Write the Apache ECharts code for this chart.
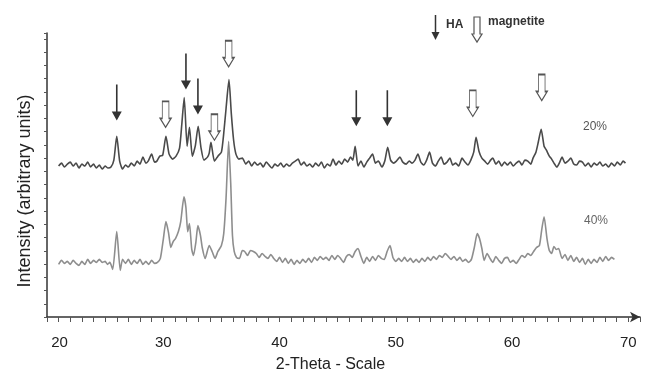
<!DOCTYPE html>
<html>
<head>
<meta charset="utf-8">
<script src="https://cdn.jsdelivr.net/npm/echarts@6/dist/echarts.min.js"></script>
<style>
  html, body { margin: 0; padding: 0; background: #fff; }
  #chart { width: 647px; height: 378px; }
</style>
</head>
<body>
<div id="chart"></div>
<script>
// 2-theta positions and intensities (arbitrary units)
const theta20 = [21.0, 21.25, 21.5, 21.75, 22.0, 22.25, 22.5, 22.75, 23.0, 23.25, 23.5, 23.75, 24.0, 24.25, 24.5, 24.75,
  25.0, 25.25, 25.5, 25.75, 26.0, 26.25, 26.5, 26.75, 27.0, 27.25, 27.5, 27.75, 28.0, 28.25, 28.5, 28.7, 29.0, 29.25, 29.45, 29.7, 29.95,
  30.23, 30.5, 30.8, 31.1, 31.4, 31.6, 31.8, 32.05, 32.25, 32.5, 32.75, 33.0, 33.25, 33.5, 33.8, 33.95, 34.1, 34.4, 34.7, 35.0, 35.2, 35.4, 35.65, 35.85, 36.05, 36.25, 36.5, 36.8,
  37.1, 37.35, 37.6, 37.85, 38.1, 38.35, 38.6, 38.85, 39.1, 39.35, 39.6, 39.85, 40.1, 40.35, 40.6, 40.85, 41.1, 41.35, 41.6, 41.85,
  42.1, 42.35, 42.6, 42.85, 43.1, 43.35, 43.6, 43.85, 44.1, 44.35, 44.6, 44.85, 45.1, 45.35, 45.6, 45.85, 46.1, 46.3, 46.5, 46.75,
  47.0, 47.25, 47.5, 47.75, 48.0, 48.25, 48.5, 48.8, 49.05, 49.3, 49.55, 49.8, 50.05, 50.35, 50.6, 50.9, 51.15, 51.4, 51.65, 51.9,
  52.15, 52.4, 52.65, 52.9, 53.15, 53.4, 53.65, 53.9, 54.15, 54.4, 54.65, 54.9, 55.15, 55.4, 55.7, 55.95, 56.2, 56.45, 56.7, 56.9,
  57.15, 57.4, 57.65, 57.9, 58.15, 58.35, 58.6, 58.85, 59.1, 59.35, 59.6, 59.85, 60.1, 60.35, 60.6, 60.85, 61.1, 61.35, 61.6, 61.8,
  62.05, 62.25, 62.5, 62.75, 62.95, 63.2, 63.4, 63.6, 63.85, 64.1, 64.3, 64.55, 64.8, 65.05, 65.3, 65.55, 65.8, 66.05, 66.3, 66.55,
  66.8, 67.05, 67.3, 67.55, 67.8, 68.05, 68.3, 68.55, 68.8, 69.05, 69.3, 69.55, 69.75];
const int20 = [152, 155, 151, 154, 156, 152, 155, 150, 154, 152, 156, 151, 154, 150, 153, 149,
  152, 150, 151, 158, 182, 157, 149, 153, 151, 155, 152, 157, 154, 161, 155, 157, 164, 156, 157, 162, 163,
  182, 164, 159, 162, 170, 195, 221, 172, 191, 162, 172, 192, 170, 158, 161, 165, 176, 157, 162, 166, 185, 210, 239, 205, 178, 164, 159, 160,
  154, 157, 152, 156, 153, 155, 151, 156, 153, 150, 154, 152, 155, 151, 154, 152, 155, 157, 159, 153,
  156, 152, 154, 151, 155, 152, 156, 150, 154, 152, 159, 153, 157, 154, 159, 156, 161, 158, 172, 152,
  157, 151, 156, 160, 164, 155, 157, 151, 157, 171, 158, 155, 157, 161, 156, 154, 157, 155, 158, 164,
  156, 153, 158, 166, 155, 152, 157, 161, 154, 156, 160, 153, 155, 152, 160, 156, 153, 158, 166, 181,
  167, 160, 157, 154, 158, 160, 154, 157, 152, 156, 153, 156, 152, 155, 157, 153, 158, 157, 154, 160,
  166, 176, 189, 172, 168, 162, 159, 155, 151, 156, 161, 155, 157, 160, 154, 153, 157, 156, 152, 155,
  151, 155, 153, 156, 152, 154, 151, 155, 152, 156, 153, 157, 155];

const theta40 = [21.0, 21.25, 21.5, 21.75, 22.0, 22.25, 22.5, 22.75, 23.0, 23.25, 23.5, 23.75, 24.0, 24.25, 24.5, 24.75,
  25.0, 25.2, 25.4, 25.65, 26.0, 26.3, 26.5, 26.75, 27.0, 27.25, 27.5, 27.75, 28.0, 28.25, 28.5, 28.75, 29.0, 29.25, 29.5, 29.75,
  30.0, 30.23, 30.45, 30.65, 30.85, 31.05, 31.3, 31.5, 31.78, 31.95, 32.1, 32.25, 32.45, 32.6, 32.8, 32.98, 33.2, 33.35, 33.6, 33.95,
  34.2, 34.45, 34.7, 35.0, 35.2, 35.4, 35.62, 35.8, 35.95, 36.1, 36.3, 36.55, 36.8, 37.0, 37.25, 37.5, 37.75, 38.0, 38.25, 38.5,
  38.75, 39.0, 39.25, 39.5, 39.75, 40.0, 40.25, 40.5, 40.75, 41.0, 41.25, 41.5, 41.75, 42.0, 42.25, 42.5, 42.75, 43.0, 43.25, 43.5,
  43.75, 44.0, 44.25, 44.5, 44.75, 45.0, 45.25, 45.5, 45.75, 46.0, 46.25, 46.5, 46.75, 47.0, 47.25, 47.5, 47.75, 48.0, 48.25, 48.5,
  48.75, 49.0, 49.25, 49.5, 49.75, 50.0, 50.25, 50.5, 50.75, 51.0, 51.25, 51.5, 51.75, 52.0, 52.25, 52.5, 52.75, 53.0, 53.25, 53.5,
  53.75, 54.0, 54.25, 54.5, 54.75, 55.0, 55.25, 55.5, 55.75, 56.0, 56.25, 56.5, 56.75, 57.0, 57.2, 57.4, 57.6, 57.85, 58.1, 58.35,
  58.6, 58.85, 59.1, 59.35, 59.6, 59.85, 60.1, 60.35, 60.6, 60.85, 61.1, 61.35, 61.6, 61.85, 62.1, 62.35, 62.55, 62.75, 63.0, 63.2,
  63.4, 63.6, 63.8, 64.0, 64.3, 64.55, 64.8, 65.05, 65.3, 65.55, 65.8, 66.05, 66.3, 66.55, 66.8, 67.05, 67.3, 67.55, 67.8, 68.05,
  68.3, 68.55, 68.8];
const int40 = [53, 57, 54, 56, 53, 57, 54, 52, 56, 53, 58, 54, 57, 55, 58, 55,
  56, 53, 55, 48, 86, 47, 58, 54, 58, 53, 57, 54, 58, 53, 56, 53, 57, 54, 55, 59,
  78, 96, 85, 70, 76, 79, 86, 96, 121, 110, 86, 94, 68, 62, 75, 92, 82, 70, 59, 72,
  66, 59, 66, 72, 84, 120, 177, 135, 82, 66, 60, 59, 67, 66, 62, 67, 66, 64, 60, 64,
  61, 59, 63, 59, 56, 60, 55, 59, 54, 58, 53, 57, 54, 58, 55, 59, 55, 60, 57, 61,
  58, 60, 57, 62, 58, 62, 59, 55, 61, 63, 60, 66, 69, 61, 54, 60, 56, 61, 57, 62,
  59, 58, 66, 72, 60, 56, 59, 56, 60, 56, 59, 55, 58, 55, 59, 56, 60, 57, 61, 58,
  62, 60, 64, 61, 58, 61, 57, 60, 56, 58, 55, 58, 70, 84, 79, 69, 57, 64, 59, 55,
  61, 57, 54, 59, 60, 55, 57, 54, 58, 62, 60, 64, 62, 66, 70, 72, 88, 101, 79, 67,
  64, 71, 68, 69, 59, 63, 57, 62, 56, 60, 55, 59, 53, 58, 54, 58, 55, 60, 56, 61,
  57, 60, 58];

// peak markers: position and arrow-tip height
const haTheta = [26.0, 31.95, 32.98, 46.6, 49.27];
const haTip = [198, 229, 204, 192, 192];
const magTheta = [30.2, 34.4, 35.62, 56.62, 62.55];
const magTip = [191, 178, 252, 202, 218];

const xTicks = [20, 30, 40, 50, 60, 70];

const font = '"Liberation Sans", Arial, sans-serif';
const haPath = 'path://M4.2,0 L5.8,0 L5.8,27 L10,27 L5,36 L0,27 L4.2,27 Z';
const magPath = 'path://M2,0 L8,0 L8,17 L10,17 L5,26 L0,17 L2,17 Z';

const chart = echarts.init(document.getElementById('chart'));

const option = {
  animation: false,
  backgroundColor: '#fff',
  grid: { left: 47, right: 7, top: 33, bottom: 59 },
  xAxis: {
    type: 'value',
    min: 20,
    max: 71,
    interval: 1,
    name: '2-Theta - Scale',
    nameLocation: 'middle',
    nameGap: 40,
    nameTextStyle: { fontFamily: font, fontSize: 16, color: '#222', padding: [0, 26, 0, 0] },
    axisLine: {
      lineStyle: { color: '#333', width: 1.5 },
      symbol: ['none', 'arrow'],
      symbolSize: [8, 10]
    },
    axisTick: { length: 5, lineStyle: { color: '#555' } },
    axisLabel: {
      margin: 18,
      fontFamily: font,
      fontSize: 15,
      color: '#222',
      formatter: v => {
        if (!xTicks.includes(v)) return '';
        return v === 20 ? '\u00a0\u00a0\u00a0\u00a0\u00a0\u00a020' : String(v);
      }
    },
    splitLine: { show: false }
  },
  yAxis: {
    type: 'value',
    min: 0,
    max: 286,
    interval: 40 / 3,
    name: 'Intensity (arbitrary units)',
    nameLocation: 'middle',
    nameGap: 13,
    nameTextStyle: { fontFamily: font, fontSize: 18, color: '#222', padding: [0, 32, 0, 0] },
    axisLine: { show: true, lineStyle: { color: '#333', width: 1.5 } },
    axisTick: { show: true, length: 3, lineStyle: { color: '#555' } },
    axisLabel: { show: false },
    splitLine: { show: false }
  },
  series: [
    {
      name: '20%',
      type: 'line',
      data: theta20.map((t, i) => [t, int20[i]]),
      showSymbol: false,
      symbol: 'none',
      smooth: 0.2,
      lineStyle: { color: '#4a4a4a', width: 1.6 },
      silent: true
    },
    {
      name: '40%',
      type: 'line',
      data: theta40.map((t, i) => [t, int40[i]]),
      showSymbol: false,
      symbol: 'none',
      smooth: 0.2,
      lineStyle: { color: '#8e8e8e', width: 1.6 },
      silent: true
    },
    {
      name: 'HA',
      type: 'scatter',
      data: haTheta.map((t, i) => [t, haTip[i]]),
      symbol: haPath,
      symbolSize: [10, 36],
      symbolOffset: [0, '-50%'],
      itemStyle: { color: '#333', opacity: 1 },
      silent: true
    },
    {
      name: 'magnetite',
      type: 'scatter',
      data: magTheta.map((t, i) => [t, magTip[i]]),
      symbol: magPath,
      symbolSize: [11, 26],
      symbolOffset: [0, '-50%'],
      itemStyle: { color: '#fff', borderColor: '#555', borderWidth: 1.2, opacity: 1 },
      silent: true
    }
  ],
  graphic: [
    // key
    { type: 'line', shape: { x1: 435.5, y1: 15, x2: 435.5, y2: 33 }, style: { stroke: '#333', lineWidth: 1.5 } },
    { type: 'polygon', shape: { points: [[431.5, 32], [439.5, 32], [435.5, 40]] }, style: { fill: '#333' } },
    { type: 'text', left: 446, top: 19, style: { text: 'HA', font: 'bold 12px ' + font, fill: '#333' } },
    {
      type: 'polygon',
      shape: { points: [[474, 17], [480, 17], [480, 34], [482, 34], [477, 42], [472, 34], [474, 34]] },
      style: { fill: '#fff', stroke: '#555', lineWidth: 1.2 }
    },
    { type: 'text', left: 488, top: 16, style: { text: 'magnetite', font: 'bold 12px ' + font, fill: '#333' } },
    // sample labels
    { type: 'text', left: 583, top: 121, style: { text: '20%', font: '12px ' + font, fill: '#555' } },
    { type: 'text', left: 584, top: 215, style: { text: '40%', font: '12px ' + font, fill: '#666' } }
  ]
};

chart.setOption(option);
</script>
</body>
</html>
